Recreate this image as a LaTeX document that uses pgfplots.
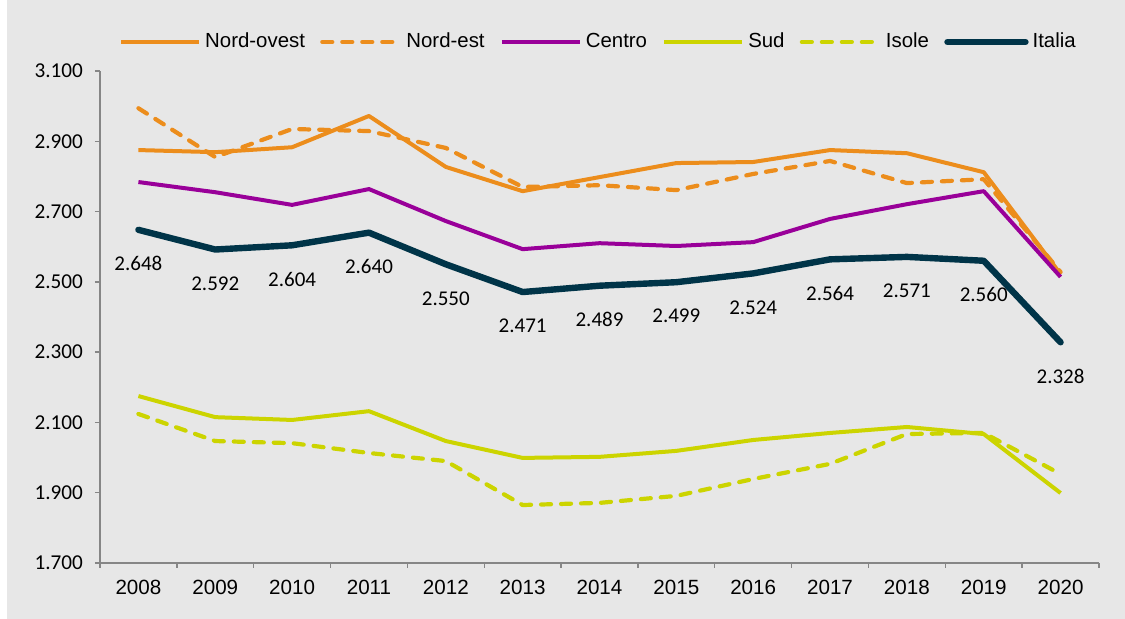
\documentclass[border=0pt]{standalone}
\usepackage{pgfplots}
\pgfplotsset{compat=1.18}
\usepackage{fontspec}
\setmainfont{Liberation Sans}
\newfontfamily\carlito{Carlito}
\definecolor{bg}{RGB}{231,231,231}
\definecolor{axgray}{RGB}{134,134,134}
\definecolor{cor}{RGB}{236,141,28}
\definecolor{cpu}{RGB}{153,0,153}
\definecolor{cli}{RGB}{204,212,0}
\definecolor{cna}{RGB}{0,52,72}
\begin{document}
\begin{tikzpicture}
\fill[bg] (-46.5pt,-28pt) rectangle (512.5pt,281.5pt);
\path[use as bounding box] (-50pt,-28pt) rectangle (512.5pt,281.5pt);
\begin{axis}[
  scale only axis, width=499.5pt, height=246pt,
  at={(0,0)}, anchor=south west,
  xmin=-0.5, xmax=12.5, ymin=1700, ymax=3100,
  axis x line*=bottom, axis y line*=left,
  axis line style={-, draw=axgray, line width=0.7pt},
  tick align=outside,
  xtick={0,...,12},
  xticklabels={2008,2009,2010,2011,2012,2013,2014,2015,2016,2017,2018,2019,2020},
  major x tick style={draw=none},
  minor xtick={-0.5,0.5,...,12.5},
  minor tick length=2.5pt,
  minor x tick style={draw=axgray, line width=0.7pt},
  ytick={1700,1900,...,3100},
  major tick length=2.5pt,
  y tick style={draw=axgray, line width=0.7pt},
  scaled y ticks=false,
  /pgf/number format/.cd, 1000 sep={.}, assume math mode=true, /pgfplots/.cd,
  yticklabel style={font=\carlito\fontsize{10.6}{12}\selectfont, xshift=-2.5pt},
  xticklabel style={font=\fontsize{10.3}{12}\selectfont, yshift=-2.5pt},
  legend style={draw=none, fill=none, at={(0.5,1)}, anchor=center, yshift=14.5pt,
    font=\fontsize{10.2}{12}\selectfont, legend columns=6,
    /tikz/every even column/.append style={column sep=5.6pt}},
  legend image code/.code={\draw[#1] (0pt,0pt) -- (39pt,0pt);},
  every axis plot/.append style={line join=round},
]
\addplot[cor, line width=2pt] coordinates {(0,2875) (1,2869) (2,2883) (3,2972) (4,2827) (5,2758) (6,2798) (7,2838) (8,2841) (9,2875) (10,2866) (11,2812) (12,2522)};
\addlegendentry{Nord-ovest}
\addplot[cor, line width=2.1pt, line cap=round, dash pattern=on 5pt off 5pt] coordinates {(0,2994) (1,2855) (2,2935) (3,2929) (4,2881) (5,2770) (6,2775) (7,2761) (8,2807) (9,2844) (10,2781) (11,2792) (12,2528)};
\addlegendentry{Nord-est}
\addplot[cpu, line width=2pt] coordinates {(0,2784) (1,2755) (2,2719) (3,2764) (4,2673) (5,2593) (6,2610) (7,2602) (8,2613) (9,2679) (10,2721) (11,2758) (12,2514)};
\addlegendentry{Centro}
\addplot[cli, line width=2pt] coordinates {(0,2175) (1,2115) (2,2107) (3,2132) (4,2047) (5,1999) (6,2002) (7,2019) (8,2050) (9,2070) (10,2087) (11,2067) (12,1899)};
\addlegendentry{Sud}
\addplot[cli, line width=2.1pt, line cap=round, dash pattern=on 5pt off 5pt] coordinates {(0,2124) (1,2047) (2,2041) (3,2013) (4,1990) (5,1865) (6,1871) (7,1891) (8,1939) (9,1982) (10,2067) (11,2070) (12,1953)};
\addlegendentry{Isole}
\addplot[cna, line width=3.2pt, line cap=round] coordinates {(0,2648) (1,2592) (2,2604) (3,2640) (4,2550) (5,2471) (6,2489) (7,2499) (8,2524) (9,2564) (10,2571) (11,2560) (12,2328)};
\addlegendentry{Italia}
\addplot[draw=none, forget plot, nodes near coords,
  every node near coord/.style={anchor=center, yshift=-17pt, text=black, font=\carlito\fontsize{10.5}{12}\selectfont}]
  coordinates {(0,2648) (1,2592) (2,2604) (3,2640) (4,2550) (5,2471) (6,2489) (7,2499) (8,2524) (9,2564) (10,2571) (11,2560) (12,2328)};
\end{axis}
\end{tikzpicture}
\end{document}
